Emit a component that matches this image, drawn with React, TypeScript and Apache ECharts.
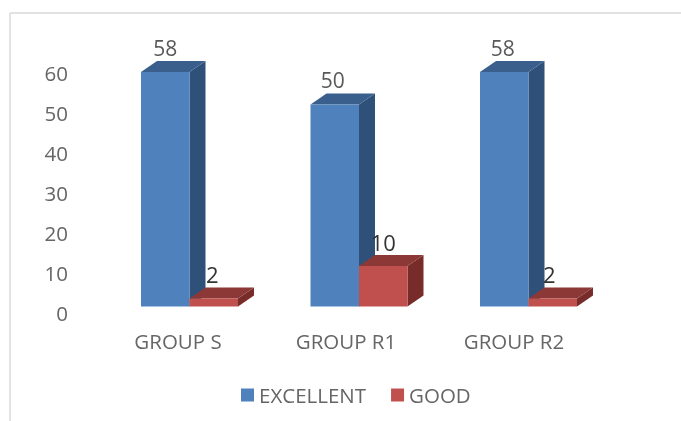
import React, { useEffect, useRef } from "react";
import * as echarts from "echarts";

const categories = ["GROUP S", "GROUP R1", "GROUP R2"];
const excellent = [58, 50, 58];
const good = [2, 10, 2];
const yTicks = [0, 10, 20, 30, 40, 50, 60];

const FONT = "'Open Sans', sans-serif";
const BAR_W = 48.5;
const DX = 16;
const DY = 11;
const excellentShift = [0, -2, -1.5];
const goodShift = [-1.5, 0, -3.5];

function box(offset: number, colors: string[], shifts: number[], labelColor: string, fontSize: number) {
  return (params: any, api: any) => {
    const i = api.value(0);
    const v = api.value(1);
    const [cx, top] = api.coord([i, v]);
    const [, base] = api.coord([i, 0]);
    const x0 = cx + offset;
    const x1 = x0 + BAR_W;
    return {
      type: "group",
      children: [
        { type: "polygon", shape: { points: [[x1, top], [x1 + DX, top - DY], [x1 + DX, base - DY], [x1, base]] }, style: { fill: colors[2] } },
        { type: "polygon", shape: { points: [[x0, top], [x0 + DX, top - DY], [x1 + DX, top - DY], [x1, top]] }, style: { fill: colors[1] } },
        { type: "rect", shape: { x: x0, y: top, width: BAR_W, height: base - top }, style: { fill: colors[0] } },
        {
          type: "text",
          x: (x0 + x1) / 2 + shifts[i],
          y: top - 24,
          style: { text: String(v), fill: labelColor, font: `${fontSize}px ${FONT}`, textAlign: "center", textVerticalAlign: "middle" },
        },
      ],
    };
  };
}

export default function App() {
  const ref = useRef<HTMLDivElement>(null);
  useEffect(() => {
    const chart = echarts.init(ref.current!, undefined, { renderer: "svg" });
    const axisText = { color: "#666666", fontFamily: FONT, fontSize: 20.5 };
    chart.setOption({
      animation: false,
      backgroundColor: "#ffffff",
      graphic: [
        { type: "line", shape: { x1: 10, y1: 13, x2: 681, y2: 13 }, style: { stroke: "#d9d9d9", lineWidth: 1.5 } },
        { type: "line", shape: { x1: 10, y1: 13, x2: 10, y2: 421 }, style: { stroke: "#d9d9d9", lineWidth: 1.5 } },
      ],
      legend: {
        left: 236,
        top: 379.5,
        itemWidth: 13,
        itemHeight: 13,
        itemGap: 25,
        icon: "rect",
        textStyle: { ...axisText, padding: [0, 0, 0, 0] },
        data: ["EXCELLENT", "GOOD"],
      },
      grid: [
        { left: 94, width: 504, top: 73, height: 240 },
        { left: 104.75, width: 508.5, top: 64, height: 242.5 },
      ],
      xAxis: [
        {
          type: "category",
          gridIndex: 0,
          data: categories,
          axisLine: { show: false },
          axisTick: { show: false },
          axisLabel: { ...axisText, margin: 17.5 },
        },
        { type: "category", gridIndex: 1, data: categories, show: false },
      ],
      yAxis: [
        {
          type: "value",
          gridIndex: 0,
          min: yTicks[0],
          max: yTicks[yTicks.length - 1],
          interval: 10,
          splitLine: { show: false },
          axisLine: { show: false },
          axisTick: { show: false },
          axisLabel: { ...axisText, margin: 26 },
        },
        { type: "value", gridIndex: 1, min: 0, max: 60, interval: 10, show: false },
      ],
      series: [
        {
          name: "EXCELLENT",
          type: "custom",
          xAxisIndex: 1,
          yAxisIndex: 1,
          itemStyle: { color: "#4f81bd" },
          renderItem: box(-BAR_W, ["#4f81bd", "#3a5f8c", "#2f5078"], excellentShift, "#595959", 21),
          data: excellent.map((v, i) => [i, v]),
        },
        {
          name: "GOOD",
          type: "custom",
          xAxisIndex: 1,
          yAxisIndex: 1,
          itemStyle: { color: "#c0504d" },
          renderItem: box(0, ["#c0504d", "#8c3836", "#772c2a"], goodShift, "#333333", 22),
          data: good.map((v, i) => [i, v]),
        },
      ],
    });
    return () => chart.dispose();
  }, []);
  return <div ref={ref} style={{ position: "fixed", left: 0, top: 0, width: 681, height: 421, filter: "blur(0.4px)" }} />;
}
